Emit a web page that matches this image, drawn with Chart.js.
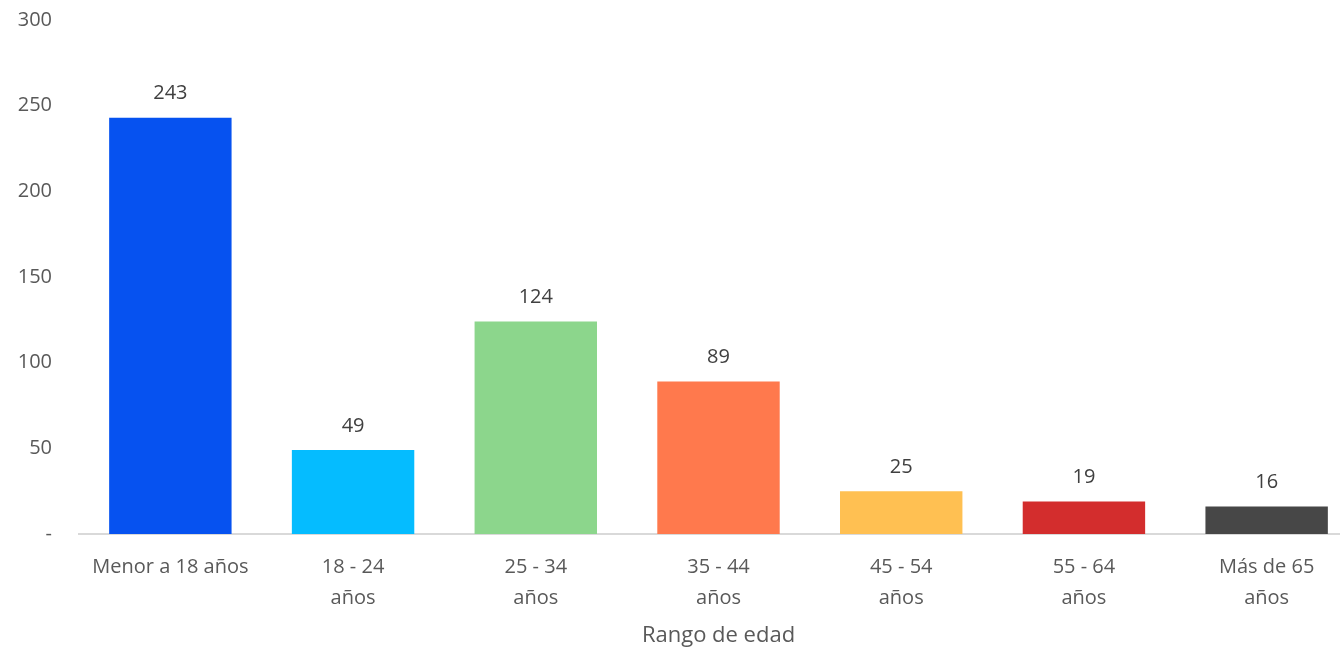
<!DOCTYPE html>
<html>
<head>
<meta charset="utf-8">
<script src="https://cdn.jsdelivr.net/npm/chart.js@4"></script>
<style>
  html, body { margin: 0; padding: 0; background: #fff; overflow: hidden; }
  #wrap { width: 1358px; height: 668px; margin-top: -19px; }
</style>
</head>
<body>
<div id="wrap"><canvas id="chartedad"></canvas></div>
<script>
// Datos del gráfico
const categorias = [
  'Menor a 18 años',
  ['18 - 24', 'años'],
  ['25 - 34', 'años'],
  ['35 - 44', 'años'],
  ['45 - 54', 'años'],
  ['55 - 64', 'años'],
  ['Más de 65', 'años']
];
const personas = [243, 49, 124, 89, 25, 19, 16];
const colores = ['#0652F0', '#05BCFF', '#8CD68C', '#FF794D', '#FFC052', '#D32D2D', '#474747'];
const ticksY = [0, 50, 100, 150, 200, 250, 300];

const fuente = "'Open Sans', sans-serif";

// etiquetas encima de las barras
const etiquetas = {
  id: 'etiquetas',
  afterDatasetsDraw(chart) {
    const ctx = chart.ctx;
    const meta = chart.getDatasetMeta(0);
    ctx.save();
    ctx.fillStyle = '#404040';
    ctx.font = '20px ' + fuente;
    ctx.textAlign = 'center';
    ctx.textBaseline = 'middle';
    meta.data.forEach((bar, i) => {
      ctx.fillText(personas[i], bar.x, bar.y - 24);
    });
    ctx.restore();
  }
};

const ctx = document.getElementById('chartedad');
new Chart(ctx, {
  type: 'bar',
  data: {
    labels: categorias,
    datasets: [{
      data: personas,
      backgroundColor: colores,
      barPercentage: 0.67,
      categoryPercentage: 1
    }]
  },
  options: {
    responsive: true,
    maintainAspectRatio: false,
    animation: false,
    layout: { padding: 0 },
    plugins: {
      legend: { display: false },
      tooltip: { enabled: false }
    },
    scales: {
      x: {
        grid: { display: false, drawTicks: false },
        border: { display: true, color: '#D9D9D9', width: 2 },
        ticks: {
          color: '#595959',
          font: { family: fuente, size: 20, lineHeight: 1.55 },
          padding: 18,
          maxRotation: 0,
          autoSkip: false
        },
        title: {
          display: true,
          text: 'Rango de edad',
          color: '#595959',
          font: { family: fuente, size: 22 },
          padding: { top: 0, bottom: 0 }
        },
        afterFit(scale) { scale.height = 115; }
      },
      y: {
        min: 0,
        max: 300,
        afterBuildTicks(scale) { scale.ticks = ticksY.map(v => ({ value: v })); },
        grid: { display: false, drawTicks: false },
        border: { display: false },
        ticks: {
          color: '#595959',
          font: { family: fuente, size: 20 },
          padding: 27,
          callback: v => v === 0 ? '-' : v
        },
        afterFit(scale) { scale.width = 79; }
      }
    }
  },
  plugins: [etiquetas]
});
</script>
</body>
</html>
